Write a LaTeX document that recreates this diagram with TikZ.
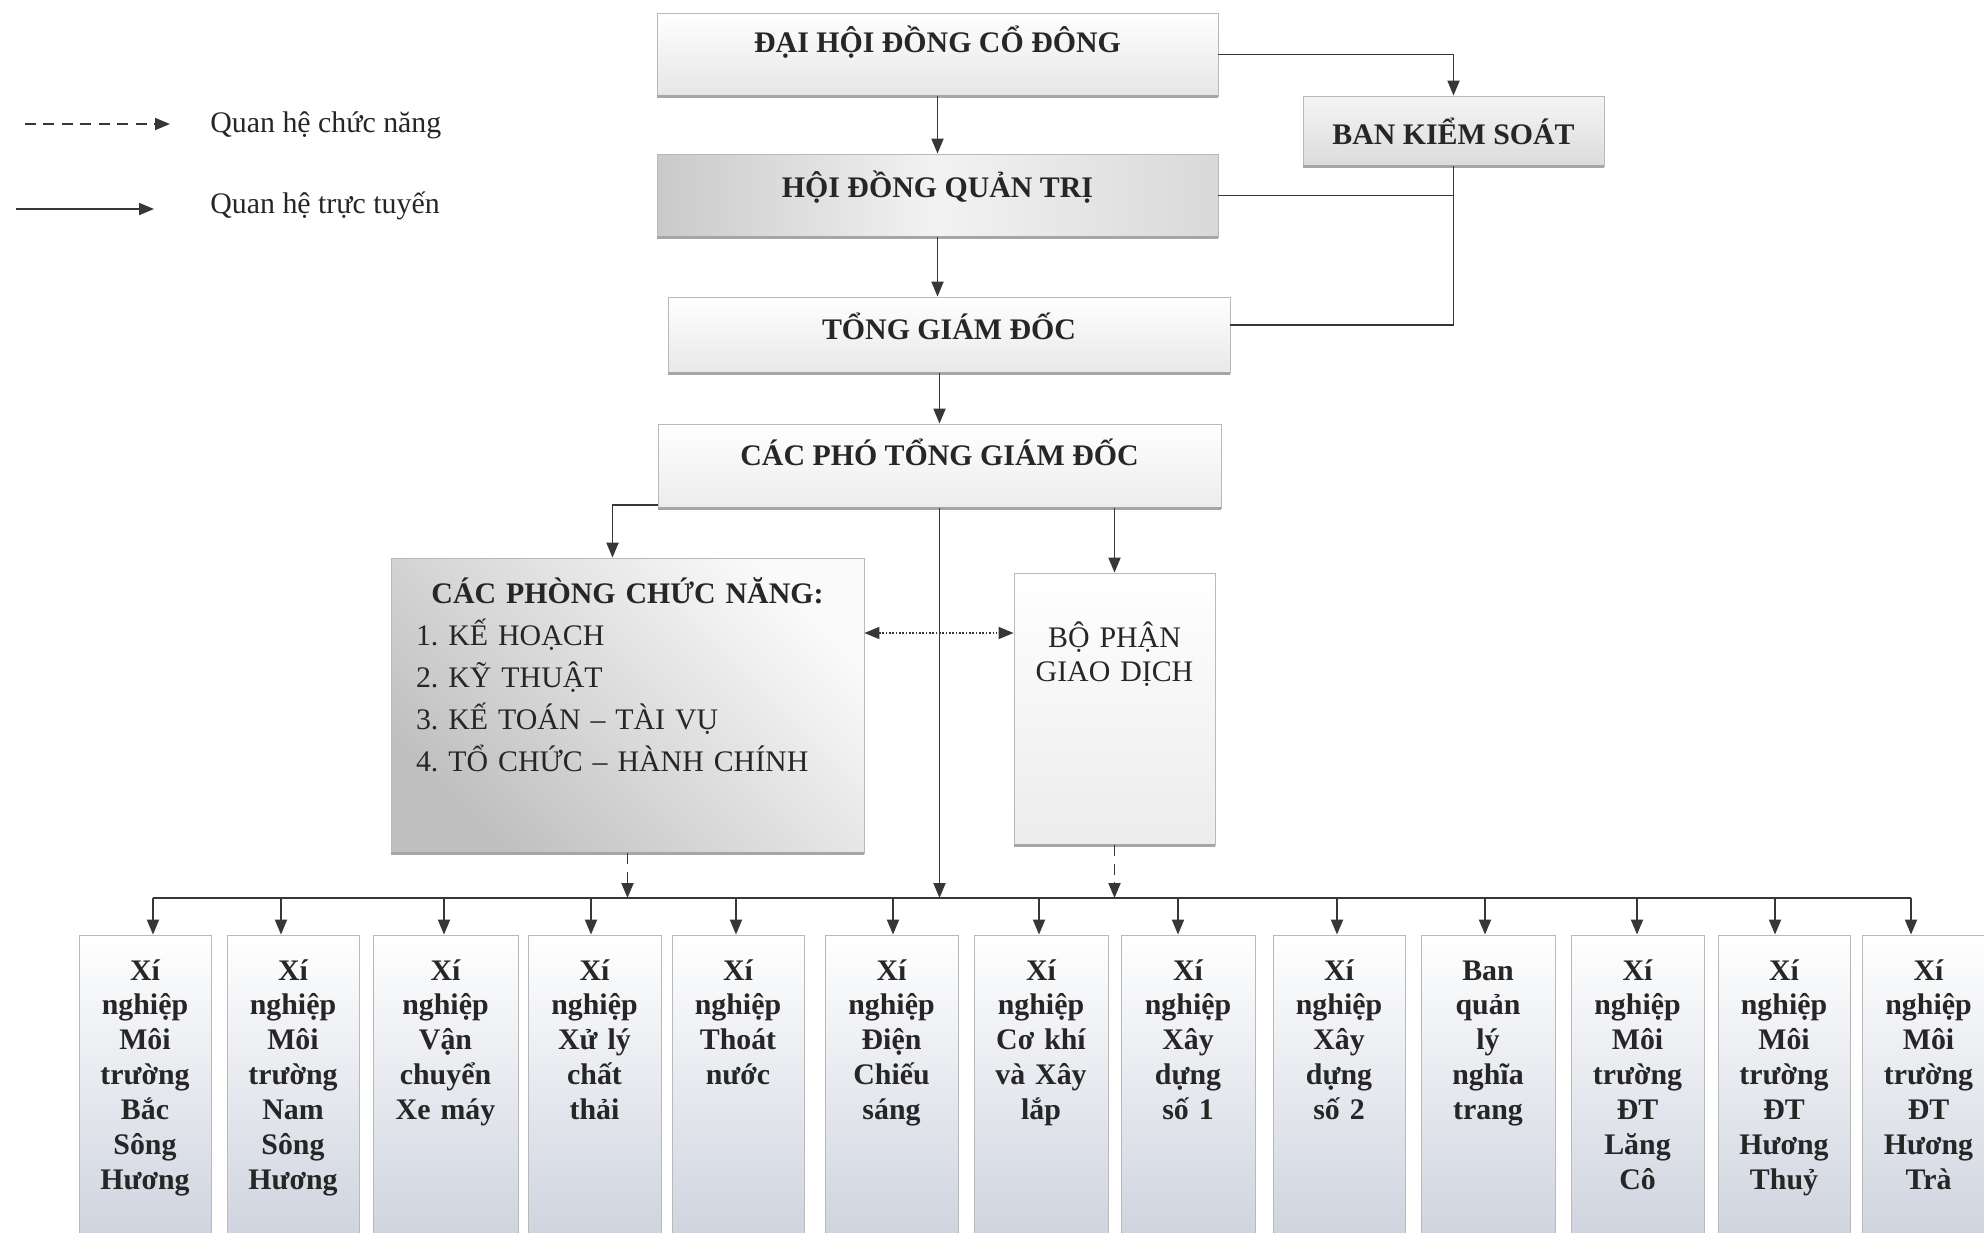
\documentclass[tikz,border=0pt]{standalone}
\usepackage{fontspec}
\setmainfont{Liberation Serif}
\usetikzlibrary{arrows.meta}
\definecolor{linegray}{RGB}{55,55,55}
\definecolor{inkgray}{RGB}{38,38,38}
\definecolor{unitfill}{RGB}{206,211,222}
\frenchspacing

\begin{document}
\def\busY{898}
\def\unitY{980}

\begin{tikzpicture}[x=0.02cm, y=-0.02cm, >={Triangle[length=0.3cm,width=0.24cm]},
    line/.style={draw=linegray, line width=1.1pt},
    fn/.style={draw=linegray, line width=1.1pt, dash pattern=on 0.22cm off 0.15cm},
    link/.style={draw=linegray, line width=0.9pt, densely dotted},
    rim/.style={draw=gray!70, line width=1.6pt},
    box/.style={draw=gray!55, line width=0.5pt, inner sep=0pt, anchor=base, align=center,
        text=inkgray, font=\fontsize{17}{20}\selectfont\bfseries},
    unit/.style={box, text width=2.5cm, text height=0.9cm, text depth=5.2cm,
        top color=white, bottom color=unitfill, font=\fontsize{17}{19.9}\selectfont\bfseries},
    legend/.style={anchor=base west, inner sep=0pt, text=inkgray, font=\fontsize{17}{20}\selectfont}]
  \useasboundingbox (0,0) rectangle (1984,1232);

  \coordinate (fnA) at (25,124);
  \coordinate (fnB) at (170,124);
  \coordinate (lnA) at (16,209);
  \coordinate (lnB) at (154,209);
  \node[legend] (fnlbl) at (210,132) {Quan hệ chức năng};
  \node[legend] (lnlbl) at (210,213) {Quan hệ trực tuyến};
  \draw[fn,->] (fnA) -- (fnB);
  \draw[line,->] (lnA) -- (lnB);

  \node[box, minimum width=11.22cm, text height=0.78cm, text depth=0.88cm,
      top color=white, bottom color=gray!20] (dhdcd) at (937.5,52) {ĐẠI HỘI ĐỒNG CỔ ĐÔNG};
  \node[box, minimum width=6.02cm, text height=0.96cm, text depth=0.44cm,
      top color=gray!8, bottom color=gray!28] (bks) at (1453.5,144) {BAN KIỂM SOÁT};
  \node[box, minimum width=11.22cm, text height=0.86cm, text depth=0.80cm,
      left color=gray!42, right color=gray!30, middle color=gray!10] (hdqt) at (937.5,197) {HỘI ĐỒNG QUẢN TRỊ};
  \node[box, minimum width=11.24cm, text height=0.84cm, text depth=0.68cm,
      top color=white, bottom color=gray!18] (tgd) at (949,339) {TỔNG GIÁM ĐỐC};
  \node[box, minimum width=11.26cm, text height=0.82cm, text depth=0.86cm,
      top color=white, bottom color=gray!15] (ptgd) at (939.5,465) {CÁC PHÓ TỔNG GIÁM ĐỐC};
  \node[box, minimum width=9.46cm, text width=8.46cm, align=left, text height=0.9cm, text depth=5.0cm,
      top color=gray!4, bottom color=gray!50, shading angle=-45,
      font=\fontsize{17}{24}\selectfont] (phong) at (627.5,603)
      {{\centering\bfseries CÁC PHÒNG CHỨC NĂNG:\par}
       1. KẾ HOẠCH\par
       2. KỸ THUẬT\par
       3. KẾ TOÁN -- TÀI VỤ\par
       4. TỔ CHỨC -- HÀNH CHÍNH};
  \node[box, minimum width=4.02cm, text width=3.8cm, text height=1.48cm, text depth=3.96cm,
      top color=white, bottom color=gray!15, font=\fontsize{17}{19.9}\selectfont] (bophan) at (1114.5,647)
      {BỘ PHẬN\\GIAO DỊCH};
  \foreach \n in {dhdcd,bks,hdqt,tgd,ptgd,phong,bophan}
      \draw[rim] (\n.south west) -- (\n.south east);

  \foreach \cx/\ax/\w/\txt [count=\i] in {
      145/153/2.64/{Xí\\nghiệp\\Môi\\trường\\Bắc\\Sông\\Hương},
      293/281/2.64/{Xí\\nghiệp\\Môi\\trường\\Nam\\Sông\\Hương},
      445.5/444/2.9/{Xí\\nghiệp\\Vận\\chuyển\\Xe máy},
      594.5/591/2.66/{Xí\\nghiệp\\Xử lý\\chất\\thải},
      738/736/2.64/{Xí\\nghiệp\\Thoát\\nước},
      891.5/893/2.66/{Xí\\nghiệp\\Điện\\Chiếu\\sáng},
      1041/1039/2.68/{Xí\\nghiệp\\Cơ khí\\và Xây\\lắp},
      1188/1178/2.68/{Xí\\nghiệp\\Xây\\dựng\\số 1},
      1339/1337/2.64/{Xí\\nghiệp\\Xây\\dựng\\số 2},
      1488/1485/2.68/{Ban\\quản\\lý\\nghĩa\\trang},
      1637.5/1637/2.66/{Xí\\nghiệp\\Môi\\trường\\ĐT\\Lăng\\Cô},
      1784/1775/2.64/{Xí\\nghiệp\\Môi\\trường\\ĐT\\Hương\\Thuỷ},
      1928.5/1911/2.66/{Xí\\nghiệp\\Môi\\trường\\ĐT\\Hương\\Trà}} {
    \node[unit, minimum width=\w cm] (u\i) at (\cx,\unitY) {\txt};
    \coordinate (bus\i) at (\ax,\busY);
    \draw[line,->] (bus\i) -- (bus\i |- u\i.north);
  }
  \draw[line] (bus1) -- (bus13);

  \draw[line,->] (dhdcd.south) -- (hdqt.north);
  \draw[line,->] (dhdcd.east) -| (bks.north);
  \draw[line,->] (hdqt.south) -- (hdqt.south |- tgd.north);
  \draw[line,->] (ptgd.north |- tgd.south) -- (ptgd.north);
  \draw[line] (hdqt.east) -- (hdqt.east -| bks.south);
  \draw[line] (bks.south) |- ([yshift=0.2cm]tgd.east);
  \draw[line,->] ([yshift=0.06cm]ptgd.south west) -| ([xshift=-0.3cm]phong.north);
  \draw[line,->] (ptgd.south -| bophan.north) -- (bophan.north);
  \draw[line,->] (ptgd.south) -- (ptgd.south |- bus1);
  \draw[fn,->] (phong.south) -- (phong.south |- bus1);
  \draw[fn,->] (bophan.south) -- (bophan.south |- bus1);
  \draw[link,<->] ([yshift=1.45cm]phong.east) -- ([yshift=1.45cm]phong.east -| bophan.west);
\end{tikzpicture}
\end{document}
